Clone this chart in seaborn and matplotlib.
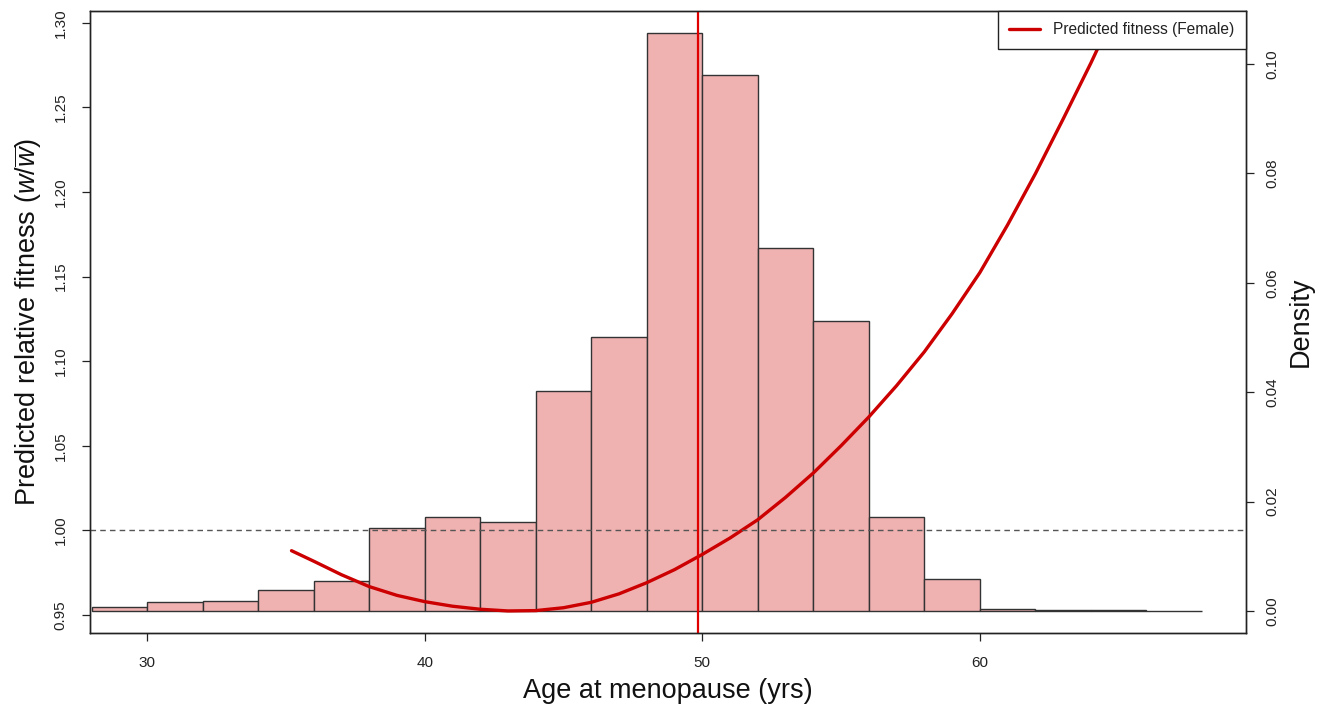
import numpy as np
import pandas as pd
import matplotlib
matplotlib.use("Agg")
import matplotlib.pyplot as plt
import seaborn as sns

# ---------------- data ----------------
bin_edges = [28, 30, 32, 34, 36, 38, 40, 42, 44, 46, 48, 50, 52, 54, 56, 58, 60, 62, 64, 66, 68]
bin_density = [0.00067, 0.00165, 0.00189, 0.0039, 0.0054, 0.0152, 0.0172, 0.0163,
               0.0402, 0.0501, 0.1056, 0.0980, 0.0663, 0.0530, 0.0172, 0.0059,
               0.0004, 0.0001, 0.0001, 0.00003]

fit_age = [35.2, 36, 37, 38, 39, 40, 41, 42, 43, 44, 45, 46, 47, 48, 49, 50, 51,
           52, 53, 54, 55, 56, 57, 58, 59, 60, 61, 62, 63, 64, 65]
fit_value = [0.9880, 0.9818, 0.9738, 0.9668, 0.9616, 0.9579, 0.9552, 0.9534, 0.9524,
             0.9526, 0.9543, 0.9575, 0.9625, 0.9691, 0.9768, 0.9858, 0.9955, 1.0063,
             1.0195, 1.0339, 1.0500, 1.0670, 1.0855, 1.1055, 1.1280, 1.1523, 1.1805,
             1.2107, 1.2430, 1.2761, 1.3110]

mean_age = 49.83
ref_fitness = 1.00

x_ticks = [30, 40, 50, 60]
fit_ticks = [0.95, 1.00, 1.05, 1.10, 1.15, 1.20, 1.25, 1.30]
dens_ticks = [0.00, 0.02, 0.04, 0.06, 0.08, 0.10]

legend_label = "Predicted fitness (Female)"
x_label = "Age at menopause (yrs)"
fit_label = r"Predicted relative fitness ($\mathit{w}/\overline{\mathit{w}}$)"
dens_label = "Density"

# ---------------- style ----------------
sns.set_style("ticks")
plt.rcParams["font.family"] = ["Liberation Sans", "DejaVu Sans"]
plt.rcParams["mathtext.fontset"] = "custom"
plt.rcParams["mathtext.rm"] = "Liberation Sans"
plt.rcParams["mathtext.it"] = "Liberation Sans:italic"

W, H = 1325, 709
fig = plt.figure(figsize=(W / 100, H / 100), dpi=100)
left, right, top, bottom = 90, 1245.7, 10.7, 633.3
ax = fig.add_axes([left / W, 1 - bottom / H, (right - left) / W, (bottom - top) / H])
ax2 = ax.twinx()

# histogram on ax (density axis -> right side)
hist_df = pd.DataFrame({
    "mid": [(a + b) / 2 for a, b in zip(bin_edges[:-1], bin_edges[1:])],
    "dens": bin_density,
})
sns.histplot(data=hist_df, x="mid", weights="dens", bins=bin_edges, stat="count",
             ax=ax, color="#F0B1B1", alpha=1.0, edgecolor="#333333", linewidth=1.0)

# fitness curve on ax2 (fitness axis -> left side)
fit_df = pd.DataFrame({"age": fit_age, "fit": fit_value})
sns.lineplot(data=fit_df, x="age", y="fit", ax=ax2, color="#CC0000", linewidth=2.4,
             label=legend_label, sort=False)
ax2.axhline(ref_fitness, color="#555555", linewidth=1.0, dashes=(4, 3))
ax2.axvline(mean_age, color="#E00000", linewidth=1.6)

ax.set_xlim(27.94, 69.58)
ax.set_ylim(-0.00408, 0.10974)
ax2.set_ylim(0.93919, 1.30709)

# axis placement
ax.yaxis.tick_right()
ax.yaxis.set_label_position("right")
ax2.yaxis.tick_left()
ax2.yaxis.set_label_position("left")

ax.set_xticks(x_ticks)
ax.set_xticklabels([str(t) for t in x_ticks])
ax.set_yticks(dens_ticks)
ax.set_yticklabels([f"{t:.2f}" for t in dens_ticks])
ax2.set_yticks(fit_ticks)
ax2.set_yticklabels([f"{t:.2f}" for t in fit_ticks])

tick_kw = dict(direction="out", length=6, width=0.9, color="#222222", labelsize=11,
               labelcolor="#222222")
ax.tick_params(axis="x", pad=10, **tick_kw)
ax.tick_params(axis="y", pad=8, labelrotation=90, **tick_kw)
ax2.tick_params(axis="y", pad=10, labelrotation=90, **tick_kw)
for lab in ax.get_yticklabels() + ax2.get_yticklabels():
    lab.set_va("center")

ax.set_xlabel(x_label, fontsize=19.5, labelpad=6, color="#111111")
ax.set_ylabel(dens_label, fontsize=19.5, labelpad=6, color="#111111")
ax2.set_ylabel(fit_label, fontsize=19.5, labelpad=7, color="#111111")

for a in (ax, ax2):
    for s in a.spines.values():
        s.set_visible(True)
        s.set_color("#222222")
        s.set_linewidth(1.0)

leg = ax2.legend(loc="upper right", borderaxespad=0, fancybox=False, framealpha=1,
                 edgecolor="#222222", fontsize=11.2, handlelength=1.95, handletextpad=0.85,
                 borderpad=0.75)
leg.get_frame().set_linewidth(1.0)
for t in leg.get_texts():
    t.set_color("#222222")

fig.savefig("out.png", dpi=100)
